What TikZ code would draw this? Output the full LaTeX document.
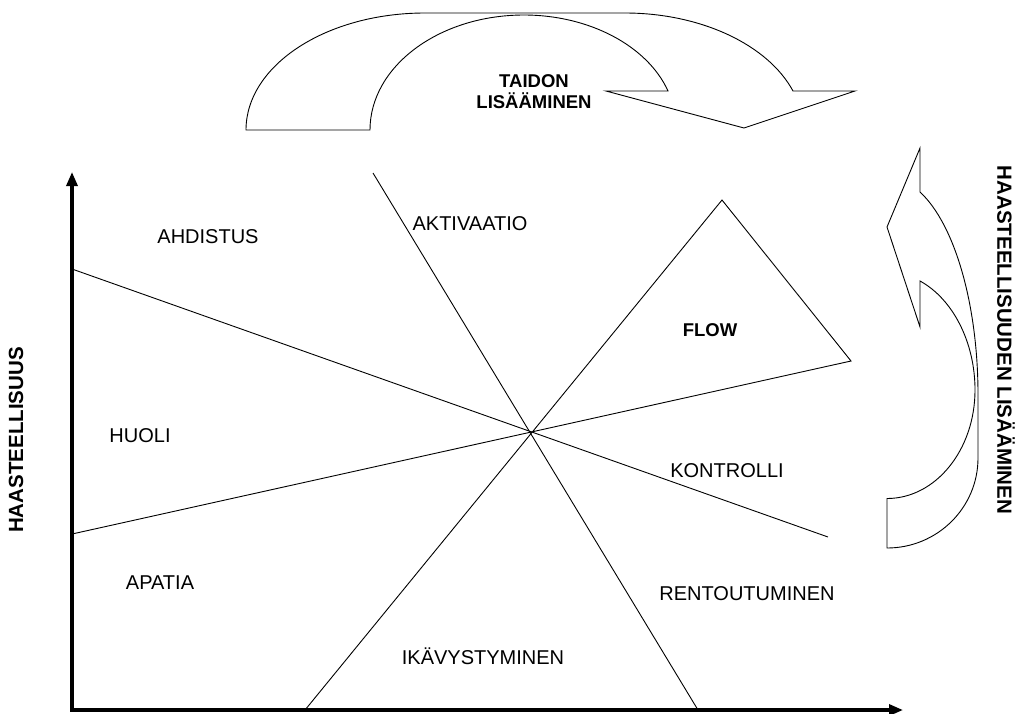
\documentclass[tikz,border=0pt]{standalone}
\usepackage{fontspec}
\setmainfont{Liberation Sans}
\usetikzlibrary{arrows.meta}
\begin{document}
\begin{tikzpicture}[x=1pt,y=-1pt,
  lbl/.style={font=\fontsize{20}{22}\selectfont, inner sep=0pt, align=center},
  blbl/.style={font=\fontsize{18.5}{21}\selectfont\bfseries, inner sep=0pt, align=center},
  sidelbl/.style={font=\fontsize{20.5}{22}\selectfont\bfseries, inner sep=0pt},
  axis/.style={line width=3.2pt, line join=miter,
    {Triangle[length=14pt,width=11pt]}-{Triangle[length=14pt,width=11pt]}},
  zone/.style={line width=0.9pt},
  bigarrow/.style={line width=0.9pt, line join=miter}]
\useasboundingbox (0,0) rectangle (1024,713);

% axes
\coordinate (O) at (72,710);
\coordinate (Ytip) at (72,172);
\coordinate (Xtip) at (903,710);
\draw[axis] (Ytip) -- (O) -- (Xtip);

% zone boundaries through the centre
\coordinate (C) at (531,432);
\coordinate (L1a) at (72,269);
\coordinate (L1b) at (828,537);
\coordinate (L2a) at (72,534);
\coordinate (L2b) at (851,361);
\coordinate (L3a) at (373,173);
\coordinate (L3b) at (698,710);
\coordinate (L4a) at (305,710);
\coordinate (apex) at (722,200);
\draw[zone] (L1a) -- (L1b);
\draw[zone] (L3a) -- (L3b);
\draw[zone] (L4a) -- (apex) -- (L2b) -- (L2a);

% curved arrow over the chart (skill)
\draw[bigarrow] (246,130) .. controls (246,65.4) and (326.1,13) .. (425,13)
  -- (625,13) .. controls (700.3,13) and (767.8,44.4) .. (793,91)
  -- (855,91) -- (744,128) -- (606,91) -- (668,91)
  .. controls (647.5,45.8) and (589.1,15) .. (524,15)
  .. controls (438.9,15) and (370,66.5) .. (370,130) -- cycle;

% curved arrow at the right (challenge)
\draw[bigarrow] (887,548) .. controls (937.3,548) and (978,507.7) .. (978,458)
  -- (978,395) .. controls (978,305.2) and (955,224.5) .. (920,192)
  -- (920,148) -- (887,227) -- (920,327) -- (920,281)
  .. controls (952.7,298.9) and (975,342) .. (975,390)
  .. controls (975,449.9) and (935.6,498.5) .. (887,498.5) -- cycle;

% labels
\node[blbl] (taito) at (534,92) {TAIDON\\LISÄÄMINEN};
\node[sidelbl, rotate=-90] (haastelis) at (1006,340) {HAASTEELLISUUDEN LISÄÄMINEN};
\node[sidelbl, rotate=90] (haaste) at (16,440) {HAASTEELLISUUS};
\node[lbl] (ahd) at (208,237) {AHDISTUS};
\node[lbl] (akt) at (470,224) {AKTIVAATIO};
\node[blbl] (flow) at (710,330) {FLOW};
\node[lbl] (huoli) at (140,436) {HUOLI};
\node[lbl] (kontr) at (727,471) {KONTROLLI};
\node[lbl] (apatia) at (160,583) {APATIA};
\node[lbl] (rento) at (747,594) {RENTOUTUMINEN};
\node[lbl] (ikav) at (483,656) {IKÄVYSTYMINEN};
\end{tikzpicture}
\end{document}
